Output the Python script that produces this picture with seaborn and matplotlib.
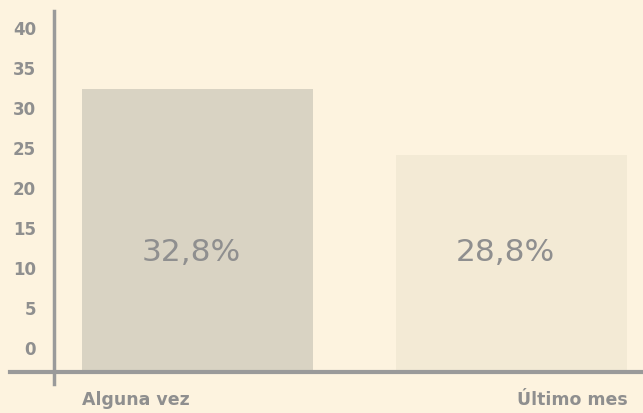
import numpy as np
import pandas as pd
import matplotlib.pyplot as plt
import seaborn as sns

categories = ["Alguna vez", "Último mes"]
bar_tops = [32.3, 24.0]          # bar top
value_labels = ["32,8%", "28,8%"]
yticks = [0, 5, 10, 15, 20, 25, 30, 35, 40]
colors = ["#d9d3c3", "#f3ead5"]

bg = "#fdf3df"
grey = "#8f8f8f"
base = -3.1   # where the baseline sits on the y scale

df = pd.DataFrame({"cat": categories, "h": np.array(bar_tops) - base})

sns.set_style("white")
plt.rcParams['font.family'] = ['DejaVu Sans']

fig = plt.figure(figsize=(6.43, 4.14), dpi=100, facecolor=bg)
ax = fig.add_axes([10/643, 1 - 385/414, 633/643, 373/414])
ax.set_facecolor(bg)

sns.barplot(data=df, x="cat", y="h", hue="cat", palette=colors, legend=False,
            width=0.734, bottom=base, ax=ax, linewidth=0, saturation=1)

ax.set_xlim(-0.596, 1.417)
ax.set_ylim(-4.6, 42)

for s in ["top", "right"]:
    ax.spines[s].set_visible(False)
ax.spines["left"].set_position(("axes", 44/633))
ax.spines["left"].set_color("#9a9a9a")
ax.spines["left"].set_linewidth(2.5)
ax.spines["bottom"].set_position(("data", base))
ax.spines["bottom"].set_color("#9a9a9a")
ax.spines["bottom"].set_linewidth(3)
ax.spines["left"].set_zorder(5)
ax.spines["bottom"].set_zorder(5)

ax.set_yticks(yticks)
ax.set_yticklabels([str(t) for t in yticks], fontweight="bold", fontsize=12, color=grey)
ax.tick_params(axis="y", length=0, pad=13)
ax.set_xticks([])
ax.set_xlabel("")
ax.set_ylabel("")

w = 0.734
for i, (cat, lab) in enumerate(zip(categories, value_labels)):
    ax.text(i - 0.02, 12, lab, ha="center", va="center", fontsize=22.5, color=grey)
    if i == 0:
        ax.text(i - w/2, base - 3.4, cat, ha="left", va="center",
                fontsize=12.5, fontweight="bold", color=grey)
    else:
        ax.text(i + w/2, base - 3.4, cat, ha="right", va="center",
                fontsize=12.5, fontweight="bold", color=grey)

fig.savefig("out.png", dpi=100, facecolor=bg)
